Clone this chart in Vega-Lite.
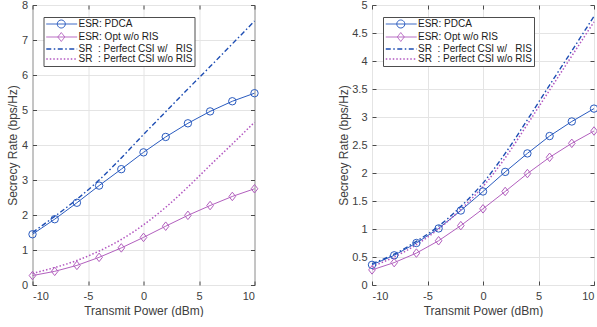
{
  "$schema": "https://vega.github.io/schema/vega-lite/v6.json",
  "background": "white",
  "padding": {"left": 5.5, "top": -2, "right": 0, "bottom": 0},
  "datasets": {
    "d": [
      {"p": "L", "s": "ESR: PDCA", "x": -10, "y": 1.45}, {"p": "L", "s": "ESR: PDCA", "x": -8, "y": 1.88}, {"p": "L", "s": "ESR: PDCA", "x": -6, "y": 2.35}, {"p": "L", "s": "ESR: PDCA", "x": -4, "y": 2.84}, {"p": "L", "s": "ESR: PDCA", "x": -2, "y": 3.31}, {"p": "L", "s": "ESR: PDCA", "x": 0, "y": 3.79}, {"p": "L", "s": "ESR: PDCA", "x": 2, "y": 4.23}, {"p": "L", "s": "ESR: PDCA", "x": 4, "y": 4.62}, {"p": "L", "s": "ESR: PDCA", "x": 6, "y": 4.96}, {"p": "L", "s": "ESR: PDCA", "x": 8, "y": 5.25}, {"p": "L", "s": "ESR: PDCA", "x": 10, "y": 5.48},
      {"p": "L", "s": "ESR: Opt w/o RIS", "x": -10, "y": 0.27}, {"p": "L", "s": "ESR: Opt w/o RIS", "x": -8, "y": 0.39}, {"p": "L", "s": "ESR: Opt w/o RIS", "x": -6, "y": 0.56}, {"p": "L", "s": "ESR: Opt w/o RIS", "x": -4, "y": 0.79}, {"p": "L", "s": "ESR: Opt w/o RIS", "x": -2, "y": 1.06}, {"p": "L", "s": "ESR: Opt w/o RIS", "x": 0, "y": 1.36}, {"p": "L", "s": "ESR: Opt w/o RIS", "x": 2, "y": 1.68}, {"p": "L", "s": "ESR: Opt w/o RIS", "x": 4, "y": 1.99}, {"p": "L", "s": "ESR: Opt w/o RIS", "x": 6, "y": 2.27}, {"p": "L", "s": "ESR: Opt w/o RIS", "x": 8, "y": 2.53}, {"p": "L", "s": "ESR: Opt w/o RIS", "x": 10, "y": 2.75},
      {"p": "L", "s": "SR\u00a0\u00a0: Perfect CSI w/\u00a0\u00a0\u00a0RIS", "x": -10, "y": 1.50}, {"p": "L", "s": "SR\u00a0\u00a0: Perfect CSI w/\u00a0\u00a0\u00a0RIS", "x": -8, "y": 1.96}, {"p": "L", "s": "SR\u00a0\u00a0: Perfect CSI w/\u00a0\u00a0\u00a0RIS", "x": -6, "y": 2.45}, {"p": "L", "s": "SR\u00a0\u00a0: Perfect CSI w/\u00a0\u00a0\u00a0RIS", "x": -4, "y": 3.00}, {"p": "L", "s": "SR\u00a0\u00a0: Perfect CSI w/\u00a0\u00a0\u00a0RIS", "x": -2, "y": 3.63}, {"p": "L", "s": "SR\u00a0\u00a0: Perfect CSI w/\u00a0\u00a0\u00a0RIS", "x": 0, "y": 4.30}, {"p": "L", "s": "SR\u00a0\u00a0: Perfect CSI w/\u00a0\u00a0\u00a0RIS", "x": 2, "y": 4.95}, {"p": "L", "s": "SR\u00a0\u00a0: Perfect CSI w/\u00a0\u00a0\u00a0RIS", "x": 4, "y": 5.60}, {"p": "L", "s": "SR\u00a0\u00a0: Perfect CSI w/\u00a0\u00a0\u00a0RIS", "x": 6, "y": 6.24}, {"p": "L", "s": "SR\u00a0\u00a0: Perfect CSI w/\u00a0\u00a0\u00a0RIS", "x": 8, "y": 6.89}, {"p": "L", "s": "SR\u00a0\u00a0: Perfect CSI w/\u00a0\u00a0\u00a0RIS", "x": 10, "y": 7.54},
      {"p": "L", "s": "SR\u00a0\u00a0: Perfect CSI w/o RIS", "x": -10, "y": 0.33}, {"p": "L", "s": "SR\u00a0\u00a0: Perfect CSI w/o RIS", "x": -8, "y": 0.50}, {"p": "L", "s": "SR\u00a0\u00a0: Perfect CSI w/o RIS", "x": -6, "y": 0.70}, {"p": "L", "s": "SR\u00a0\u00a0: Perfect CSI w/o RIS", "x": -4, "y": 0.97}, {"p": "L", "s": "SR\u00a0\u00a0: Perfect CSI w/o RIS", "x": -2, "y": 1.30}, {"p": "L", "s": "SR\u00a0\u00a0: Perfect CSI w/o RIS", "x": 0, "y": 1.72}, {"p": "L", "s": "SR\u00a0\u00a0: Perfect CSI w/o RIS", "x": 2, "y": 2.22}, {"p": "L", "s": "SR\u00a0\u00a0: Perfect CSI w/o RIS", "x": 4, "y": 2.80}, {"p": "L", "s": "SR\u00a0\u00a0: Perfect CSI w/o RIS", "x": 6, "y": 3.42}, {"p": "L", "s": "SR\u00a0\u00a0: Perfect CSI w/o RIS", "x": 8, "y": 4.03}, {"p": "L", "s": "SR\u00a0\u00a0: Perfect CSI w/o RIS", "x": 10, "y": 4.65},
      {"p": "R", "s": "ESR: PDCA", "x": -10, "y": 0.36}, {"p": "R", "s": "ESR: PDCA", "x": -8, "y": 0.53}, {"p": "R", "s": "ESR: PDCA", "x": -6, "y": 0.75}, {"p": "R", "s": "ESR: PDCA", "x": -4, "y": 1.01}, {"p": "R", "s": "ESR: PDCA", "x": -2, "y": 1.33}, {"p": "R", "s": "ESR: PDCA", "x": 0, "y": 1.67}, {"p": "R", "s": "ESR: PDCA", "x": 2, "y": 2.02}, {"p": "R", "s": "ESR: PDCA", "x": 4, "y": 2.35}, {"p": "R", "s": "ESR: PDCA", "x": 6, "y": 2.66}, {"p": "R", "s": "ESR: PDCA", "x": 8, "y": 2.92}, {"p": "R", "s": "ESR: PDCA", "x": 10, "y": 3.15},
      {"p": "R", "s": "ESR: Opt w/o RIS", "x": -10, "y": 0.27}, {"p": "R", "s": "ESR: Opt w/o RIS", "x": -8, "y": 0.40}, {"p": "R", "s": "ESR: Opt w/o RIS", "x": -6, "y": 0.57}, {"p": "R", "s": "ESR: Opt w/o RIS", "x": -4, "y": 0.79}, {"p": "R", "s": "ESR: Opt w/o RIS", "x": -2, "y": 1.06}, {"p": "R", "s": "ESR: Opt w/o RIS", "x": 0, "y": 1.36}, {"p": "R", "s": "ESR: Opt w/o RIS", "x": 2, "y": 1.67}, {"p": "R", "s": "ESR: Opt w/o RIS", "x": 4, "y": 1.99}, {"p": "R", "s": "ESR: Opt w/o RIS", "x": 6, "y": 2.28}, {"p": "R", "s": "ESR: Opt w/o RIS", "x": 8, "y": 2.53}, {"p": "R", "s": "ESR: Opt w/o RIS", "x": 10, "y": 2.75},
      {"p": "R", "s": "SR\u00a0\u00a0: Perfect CSI w/\u00a0\u00a0\u00a0RIS", "x": -10, "y": 0.38}, {"p": "R", "s": "SR\u00a0\u00a0: Perfect CSI w/\u00a0\u00a0\u00a0RIS", "x": -8, "y": 0.55}, {"p": "R", "s": "SR\u00a0\u00a0: Perfect CSI w/\u00a0\u00a0\u00a0RIS", "x": -6, "y": 0.78}, {"p": "R", "s": "SR\u00a0\u00a0: Perfect CSI w/\u00a0\u00a0\u00a0RIS", "x": -4, "y": 1.05}, {"p": "R", "s": "SR\u00a0\u00a0: Perfect CSI w/\u00a0\u00a0\u00a0RIS", "x": -2, "y": 1.40}, {"p": "R", "s": "SR\u00a0\u00a0: Perfect CSI w/\u00a0\u00a0\u00a0RIS", "x": 0, "y": 1.82}, {"p": "R", "s": "SR\u00a0\u00a0: Perfect CSI w/\u00a0\u00a0\u00a0RIS", "x": 2, "y": 2.35}, {"p": "R", "s": "SR\u00a0\u00a0: Perfect CSI w/\u00a0\u00a0\u00a0RIS", "x": 4, "y": 2.95}, {"p": "R", "s": "SR\u00a0\u00a0: Perfect CSI w/\u00a0\u00a0\u00a0RIS", "x": 6, "y": 3.57}, {"p": "R", "s": "SR\u00a0\u00a0: Perfect CSI w/\u00a0\u00a0\u00a0RIS", "x": 8, "y": 4.18}, {"p": "R", "s": "SR\u00a0\u00a0: Perfect CSI w/\u00a0\u00a0\u00a0RIS", "x": 10, "y": 4.80},
      {"p": "R", "s": "SR\u00a0\u00a0: Perfect CSI w/o RIS", "x": -10, "y": 0.33}, {"p": "R", "s": "SR\u00a0\u00a0: Perfect CSI w/o RIS", "x": -8, "y": 0.50}, {"p": "R", "s": "SR\u00a0\u00a0: Perfect CSI w/o RIS", "x": -6, "y": 0.72}, {"p": "R", "s": "SR\u00a0\u00a0: Perfect CSI w/o RIS", "x": -4, "y": 1.00}, {"p": "R", "s": "SR\u00a0\u00a0: Perfect CSI w/o RIS", "x": -2, "y": 1.35}, {"p": "R", "s": "SR\u00a0\u00a0: Perfect CSI w/o RIS", "x": 0, "y": 1.76}, {"p": "R", "s": "SR\u00a0\u00a0: Perfect CSI w/o RIS", "x": 2, "y": 2.27}, {"p": "R", "s": "SR\u00a0\u00a0: Perfect CSI w/o RIS", "x": 4, "y": 2.87}, {"p": "R", "s": "SR\u00a0\u00a0: Perfect CSI w/o RIS", "x": 6, "y": 3.48}, {"p": "R", "s": "SR\u00a0\u00a0: Perfect CSI w/o RIS", "x": 8, "y": 4.09}, {"p": "R", "s": "SR\u00a0\u00a0: Perfect CSI w/o RIS", "x": 10, "y": 4.70}
    ]
  },
  "spacing": 117.5,
  "bounds": "flush",
  "resolve": {"scale": {"color": "independent", "shape": "independent"}, "legend": {"color": "independent"}},
  "hconcat": [
    {
      "width": 222, "height": 280,
      "data": {"name": "d"},
      "transform": [{"filter": "datum.p === 'L'"}],
      "resolve": {"axis": {"x": "independent", "y": "independent"}},
      "layer": [
        {
          "transform": [{"filter": "indexof(datum.s,'ESR')===0"}],
          "mark": {"type": "line", "strokeWidth": 1},
          "encoding": {
            "x": {"field": "x", "type": "quantitative", "scale": {"domain": [-10, 10], "nice": false}, "axis": {"orient": "bottom", "values": [-10, -5, 0, 5, 10], "labelExpr": "'' + datum.value", "title": "Transmit Power (dBm)", "grid": true}},
            "y": {"field": "y", "type": "quantitative", "scale": {"domain": [0, 8], "nice": false}, "axis": {"orient": "left", "values": [0, 1, 2, 3, 4, 5, 6, 7, 8], "labelExpr": "'' + datum.value", "title": "Secrecy Rate (bps/Hz)", "grid": true}},
            "color": {"field": "s", "type": "nominal",
              "scale": {"domain": ["ESR: PDCA", "ESR: Opt w/o RIS", "SR\u00a0\u00a0: Perfect CSI w/\u00a0\u00a0\u00a0RIS", "SR\u00a0\u00a0: Perfect CSI w/o RIS"], "range": ["#2a5bbf", "#b25fbe", "#1d4db3", "#b256c0"]},
              "legend": {"title": null, "orient": "none", "legendX": 11, "legendY": 12,
                "encode": {"symbols": {"update": {
                  "shape": {"signal": "datum.index===0 ? 'M-0.65,0L4.1,0M2.275,0C2.275,0.34 2,0.615 1.66,0.615C1.32,0.615 1.045,0.34 1.045,0C1.045,-0.34 1.32,-0.615 1.66,-0.615C2,-0.615 2.275,-0.34 2.275,0Z' : datum.index===1 ? 'M-0.65,0L4.1,0M1.12,0L1.66,-0.685L2.2,0L1.66,0.685Z' : 'M-0.65,0L4.1,0'"},
                  "strokeDash": {"signal": "datum.index===2 ? [5,2.5,1.5,2.5] : datum.index===3 ? [1.5,2] : [1,0]"},
                  "strokeWidth": {"signal": "datum.index>=2 ? 1.4 : 1"},
                  "fill": {"value": "transparent"}
                }}}}}
          }
        },
        {
          "transform": [{"filter": "indexof(datum.s,'SR')===0 && indexof(datum.s,'w/o')<0"}],
          "mark": {"type": "line", "strokeWidth": 1.4, "strokeDash": [5, 2.5, 1.5, 2.5], "interpolate": "monotone"},
          "encoding": {
            "x": {"field": "x", "type": "quantitative", "axis": {"orient": "top", "values": [-10, -5, 0, 5, 10], "labels": false, "title": null, "grid": false}},
            "y": {"field": "y", "type": "quantitative", "axis": {"orient": "right", "values": [0, 1, 2, 3, 4, 5, 6, 7, 8], "labels": false, "title": null, "grid": false}},
            "color": {"field": "s", "type": "nominal"}
          }
        },
        {
          "transform": [{"filter": "indexof(datum.s,'SR')===0 && indexof(datum.s,'w/o')>=0"}],
          "mark": {"type": "line", "strokeWidth": 1.5, "strokeDash": [1.5, 2], "interpolate": "monotone"},
          "encoding": {
            "x": {"field": "x", "type": "quantitative", "axis": null},
            "y": {"field": "y", "type": "quantitative", "axis": null},
            "color": {"field": "s", "type": "nominal"}
          }
        },
        {
          "transform": [{"filter": "indexof(datum.s,'ESR')===0"}],
          "mark": {"type": "point", "filled": false, "strokeWidth": 1, "size": 55, "opacity": 1},
          "encoding": {
            "x": {"field": "x", "type": "quantitative", "axis": null},
            "y": {"field": "y", "type": "quantitative", "axis": null},
            "color": {"field": "s", "type": "nominal"},
            "shape": {"field": "s", "type": "nominal", "scale": {"domain": ["ESR: PDCA", "ESR: Opt w/o RIS"], "range": ["circle", "M-0.9,0L0,-1.15L0.9,0L0,1.15Z"]}, "legend": null}
          }
        }
      ]
    },
    {
      "width": 222, "height": 280,
      "data": {"name": "d"},
      "transform": [{"filter": "datum.p === 'R'"}],
      "resolve": {"axis": {"x": "independent", "y": "independent"}},
      "layer": [
        {
          "transform": [{"filter": "indexof(datum.s,'ESR')===0"}],
          "mark": {"type": "line", "strokeWidth": 1},
          "encoding": {
            "x": {"field": "x", "type": "quantitative", "scale": {"domain": [-10, 10], "nice": false}, "axis": {"orient": "bottom", "values": [-10, -5, 0, 5, 10], "labelExpr": "'' + datum.value", "title": "Transmit Power (dBm)", "grid": true}},
            "y": {"field": "y", "type": "quantitative", "scale": {"domain": [0, 5], "nice": false}, "axis": {"orient": "left", "values": [0, 0.5, 1, 1.5, 2, 2.5, 3, 3.5, 4, 4.5, 5], "labelExpr": "'' + datum.value", "title": "Secrecy Rate (bps/Hz)", "grid": true}},
            "color": {"field": "s", "type": "nominal",
              "scale": {"domain": ["ESR: PDCA", "ESR: Opt w/o RIS", "SR\u00a0\u00a0: Perfect CSI w/\u00a0\u00a0\u00a0RIS", "SR\u00a0\u00a0: Perfect CSI w/o RIS"], "range": ["#2a5bbf", "#b25fbe", "#1d4db3", "#b256c0"]},
              "legend": {"title": null, "orient": "none", "legendX": 11, "legendY": 12,
                "encode": {"symbols": {"update": {
                  "shape": {"signal": "datum.index===0 ? 'M-0.65,0L4.1,0M2.275,0C2.275,0.34 2,0.615 1.66,0.615C1.32,0.615 1.045,0.34 1.045,0C1.045,-0.34 1.32,-0.615 1.66,-0.615C2,-0.615 2.275,-0.34 2.275,0Z' : datum.index===1 ? 'M-0.65,0L4.1,0M1.12,0L1.66,-0.685L2.2,0L1.66,0.685Z' : 'M-0.65,0L4.1,0'"},
                  "strokeDash": {"signal": "datum.index===2 ? [5,2.5,1.5,2.5] : datum.index===3 ? [1.5,2] : [1,0]"},
                  "strokeWidth": {"signal": "datum.index>=2 ? 1.4 : 1"},
                  "fill": {"value": "transparent"}
                }}}}}
          }
        },
        {
          "transform": [{"filter": "indexof(datum.s,'SR')===0 && indexof(datum.s,'w/o')<0"}],
          "mark": {"type": "line", "strokeWidth": 1.4, "strokeDash": [5, 2.5, 1.5, 2.5], "interpolate": "monotone"},
          "encoding": {
            "x": {"field": "x", "type": "quantitative", "axis": {"orient": "top", "values": [-10, -5, 0, 5, 10], "labels": false, "title": null, "grid": false}},
            "y": {"field": "y", "type": "quantitative", "axis": {"orient": "right", "values": [0, 0.5, 1, 1.5, 2, 2.5, 3, 3.5, 4, 4.5, 5], "labels": false, "title": null, "grid": false}},
            "color": {"field": "s", "type": "nominal"}
          }
        },
        {
          "transform": [{"filter": "indexof(datum.s,'SR')===0 && indexof(datum.s,'w/o')>=0"}],
          "mark": {"type": "line", "strokeWidth": 1.5, "strokeDash": [1.5, 2], "interpolate": "monotone"},
          "encoding": {
            "x": {"field": "x", "type": "quantitative", "axis": null},
            "y": {"field": "y", "type": "quantitative", "axis": null},
            "color": {"field": "s", "type": "nominal"}
          }
        },
        {
          "transform": [{"filter": "indexof(datum.s,'ESR')===0"}],
          "mark": {"type": "point", "filled": false, "strokeWidth": 1, "size": 55, "opacity": 1},
          "encoding": {
            "x": {"field": "x", "type": "quantitative", "axis": null},
            "y": {"field": "y", "type": "quantitative", "axis": null},
            "color": {"field": "s", "type": "nominal"},
            "shape": {"field": "s", "type": "nominal", "scale": {"domain": ["ESR: PDCA", "ESR: Opt w/o RIS"], "range": ["circle", "M-0.9,0L0,-1.15L0.9,0L0,1.15Z"]}, "legend": null}
          }
        }
      ]
    }
  ],
  "config": {
    "font": "Liberation Sans",
    "view": {"stroke": "#4a4a4a", "strokeWidth": 1},
    "axis": {"domain": false, "tickColor": "#4a4a4a", "tickSize": -4, "labelPadding": 9, "labelFont": "Liberation Sans", "labelFontSize": 11, "labelColor": "#404040", "titleFont": "Liberation Sans", "titleFontSize": 12, "titleFontWeight": "normal", "titleColor": "#404040", "titlePadding": 4, "gridColor": "#e4e4e4", "gridWidth": 1},
    "axisY": {"titlePadding": 1.5},
    "legend": {"padding": 2, "strokeColor": "#4d4d4d", "fillColor": "white", "symbolSize": 169, "labelOffset": 23, "labelFont": "Liberation Sans", "labelFontSize": 10, "labelColor": "#1a1a1a", "rowPadding": 0, "labelLimit": 220, "cornerRadius": 0}
  }
}
